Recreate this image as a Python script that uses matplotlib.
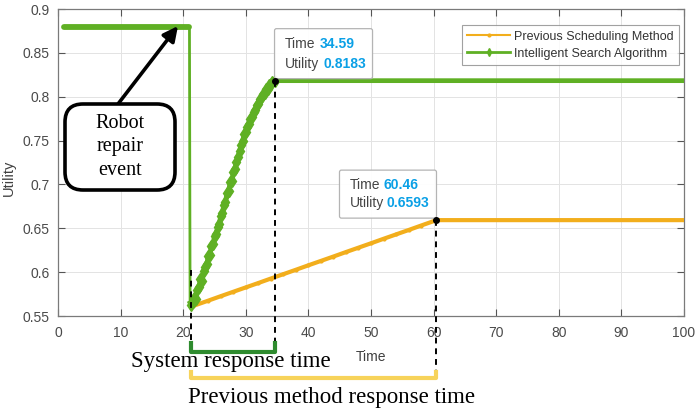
import matplotlib
matplotlib.use("Agg")
import matplotlib.pyplot as plt
import matplotlib.transforms as mtransforms
from matplotlib.patches import FancyBboxPatch
from matplotlib.lines import Line2D

# ---------------- data ----------------
green_t = [1.0, 21.0, 21.1, 21.25, 21.5, 21.75, 22.0, 22.25, 22.5, 22.75, 23.0, 23.25, 23.5,
           23.75, 24.0, 24.25, 24.5, 24.75, 25.0, 25.25, 25.5, 25.75, 26.0, 26.25, 26.5,
           26.75, 27.0, 27.25, 27.5, 27.75, 28.0, 28.25, 28.5, 28.75, 29.0, 29.25, 29.5,
           29.75, 30.0, 30.25, 30.5, 30.75, 31.0, 31.25, 31.5, 31.75, 32.0, 32.25, 32.5,
           32.75, 33.0, 33.25, 33.5, 33.75, 34.0, 34.25, 34.59, 100.0]
green_u = [0.88, 0.88, 0.565, 0.563, 0.566, 0.571, 0.569, 0.580, 0.583, 0.592, 0.590, 0.601, 0.606,
           0.609, 0.618, 0.620, 0.630, 0.632, 0.641, 0.643, 0.652, 0.655, 0.664, 0.667, 0.677,
           0.680, 0.690, 0.692, 0.703, 0.704, 0.714, 0.718, 0.726, 0.731, 0.738, 0.745, 0.750,
           0.757, 0.760, 0.766, 0.769, 0.775, 0.777, 0.783, 0.785, 0.790, 0.792, 0.797, 0.798,
           0.803, 0.804, 0.809, 0.809, 0.813, 0.814, 0.817, 0.8183, 0.8183]

orange_t = [21.8, 24, 26, 28, 30, 32, 34, 36, 38, 40, 42, 44, 46, 48, 50, 52, 54, 56, 58,
            60.46, 100.0]
orange_u = [0.562, 0.5675, 0.5726, 0.5776, 0.5826, 0.5876, 0.5927, 0.5977, 0.6027, 0.6078,
            0.6128, 0.6178, 0.6229, 0.6279, 0.6329, 0.6380, 0.6430, 0.6480, 0.6531, 0.6593,
            0.6593]

series_names = ["Previous Scheduling Method", "Intelligent Search Algorithm"]
tip_green = (34.59, 0.8183)
tip_orange = (60.46, 0.6593)
event_time = 21.2
xticks = [0, 10, 20, 30, 40, 50, 60, 70, 80, 90, 100]
yticks = [0.55, 0.6, 0.65, 0.7, 0.75, 0.8, 0.85, 0.9]

GREEN = "#5fb024"
ORANGE = "#f2ae1c"
TIPBLUE = "#0aa0e6"

W, H = 699, 412
fig = plt.figure(figsize=(W / 100, H / 100), dpi=100)
ax = fig.add_axes([58 / W, 1 - 316 / H, (684 - 58) / W, (316 - 9) / H])

# pixel transform (origin top-left of the image)
pix = mtransforms.Affine2D().scale(1, -1).translate(0, H)

# ---------------- series ----------------
ax.plot(orange_t, orange_u, color=ORANGE, lw=3.0, marker='.', ms=4,
        markevery=slice(0, -1), zorder=3, solid_capstyle='round')
ax.plot(green_t[:2], green_u[:2], color=GREEN, lw=4.2, zorder=4, solid_capstyle='round')
ax.plot(green_t[1:3], green_u[1:3], color=GREEN, lw=2.0, zorder=4)
ax.plot(green_t[2:], green_u[2:], color=GREEN, lw=3.4, marker='d', ms=6.5,
        markevery=slice(1, -1), zorder=4)

ax.set_xlim(0, 100)
ax.set_ylim(0.55, 0.9)
ax.set_xticks(xticks)
ax.set_yticks(yticks)
ax.set_xticklabels([str(v) for v in xticks])
ax.set_yticklabels([f"{v:g}" for v in yticks])
ax.grid(True, color="#e3e3e3", lw=0.7)
ax.set_axisbelow(True)
ax.tick_params(direction='in', length=5, width=0.8, color="#555555", labelcolor="#4a4a4a",
               labelsize=10, top=True, right=True)
ax.tick_params(axis='x', pad=7.5)
ax.tick_params(axis='y', pad=6)
for s in ax.spines.values():
    s.set_color("#7a7a7a")
    s.set_linewidth(0.9)
for lab in ax.get_xticklabels() + ax.get_yticklabels():
    lab.set_family("Liberation Sans")

ax.set_xlabel("Time", fontsize=10, color="#404040", family="Liberation Sans")
ax.xaxis.set_label_coords(0.5, -0.11)
ax.set_ylabel("Utility", fontsize=10.5, color="#404040", family="Liberation Sans")
ax.yaxis.set_label_coords(-0.068, 0.45)

# legend
handles = [Line2D([], [], color=ORANGE, lw=1.5, marker='.', ms=4),
           Line2D([], [], color=GREEN, lw=2.0, marker='d', ms=4)]
leg = ax.legend(handles, series_names, loc='upper right', bbox_to_anchor=(0.992, 0.948),
                borderaxespad=0, frameon=True, fancybox=False,
                handlelength=3.4, labelspacing=0.4, borderpad=0.45, handletextpad=0.3,
                prop={'family': 'Liberation Sans', 'size': 9})
leg.get_frame().set_edgecolor("#8a8a8a")
leg.get_frame().set_linewidth(0.8)
for t in leg.get_texts():
    t.set_color("#333333")

# ---------------- data tips ----------------
def datatip(pt, box, lines):
    x, y = pt
    tr = mtransforms.Affine2D() + mtransforms.ScaledTranslation(x, y, ax.transData)
    bx, by, bw, bh = box
    p = FancyBboxPatch((bx, by), bw, bh, boxstyle="round,pad=0,rounding_size=2",
                       transform=tr, facecolor="white", edgecolor="#b0b0b0", lw=0.9,
                       alpha=0.95, zorder=8, clip_on=False)
    ax.add_patch(p)
    for (lx, vx, ly, lab, val) in lines:
        ax.annotate(lab, xy=pt, xytext=(lx, ly), textcoords='offset pixels', ha='left',
                    va='center', fontsize=10, color="#444444", family="Liberation Sans",
                    zorder=9, annotation_clip=False)
        ax.annotate(val, xy=pt, xytext=(vx, ly), textcoords='offset pixels', ha='left',
                    va='center', fontsize=10, color=TIPBLUE, fontweight='bold',
                    family="Liberation Sans", zorder=9, annotation_clip=False)
    ax.plot([x], [y], 'o', color='black', ms=4, zorder=10, clip_on=False)

datatip(tip_green, (0, 2, 98, 50),
        [(10, 45, 37, "Time", f"{tip_green[0]:.2f}"),
         (10, 49, 17, "Utility", f"{tip_green[1]:.4f}")])
datatip(tip_orange, (-97, 2, 97, 48),
        [(-87, -53, 35, "Time", f"{tip_orange[0]:.2f}"),
         (-87, -50, 17, "Utility", f"{tip_orange[1]:.4f}")])

# ---------------- response-time annotations ----------------
y_green_br = 0.509
y_orange_br = 0.479
ax.plot([event_time, event_time], [0.6025, y_green_br], ls=(0, (3, 2.5)), color='black',
        lw=1.4, clip_on=False, zorder=6)
ax.plot([tip_green[0], tip_green[0]], [tip_green[1], y_green_br], ls=(0, (3, 2.5)),
        color='black', lw=1.4, clip_on=False, zorder=6)
ax.plot([tip_orange[0], tip_orange[0]], [tip_orange[1], y_orange_br], ls=(0, (3, 2.5)),
        color='black', lw=1.4, clip_on=False, zorder=6)

ax.plot([event_time, event_time, tip_green[0], tip_green[0]],
        [0.519, y_green_br, y_green_br, 0.519], color="#2e8b2e", lw=3,
        clip_on=False, zorder=7)
ax.plot([event_time, event_time, tip_orange[0], tip_orange[0]],
        [0.486, y_orange_br, y_orange_br, 0.486], color="#f7d35a", lw=3,
        clip_on=False, zorder=7)

fig.text(231, 362, "System response time", transform=pix, ha='center', va='center',
         fontsize=16.5, family="Liberation Serif", color='black')
fig.text(331, 398, "Previous method response time", transform=pix, ha='center',
         va='center', fontsize=16.5, family="Liberation Serif", color='black')

# ---------------- robot repair event ----------------
box = FancyBboxPatch((65, 104), 110, 86, boxstyle="round,pad=0,rounding_size=18",
                     transform=pix, facecolor='white', edgecolor='black', lw=2.6, zorder=11)
fig.add_artist(box)
fig.text(120, 147, "Robot\nrepair\nevent", transform=pix, ha='center', va='center',
         fontsize=14.5, family="Liberation Serif", linespacing=1.3, zorder=12)
arrow_ann = ax.annotate("", xy=(178, 26), xycoords=pix, xytext=(118, 104), textcoords=pix,
                        arrowprops=dict(arrowstyle='-|>', color='black', lw=2.6,
                                        mutation_scale=22, shrinkA=0, shrinkB=0),
                        zorder=12, annotation_clip=False)

fig.savefig("out.png", dpi=100)
